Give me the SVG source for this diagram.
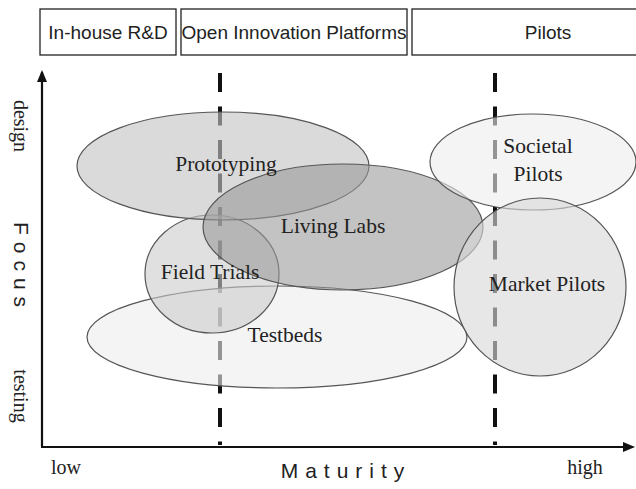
<svg xmlns="http://www.w3.org/2000/svg" width="636" height="489" viewBox="0 0 636 489">
<style>
.hdr{fill:#fff;stroke:#222;stroke-width:1.3}
.ht{font-family:"Liberation Sans",Arial,sans-serif;font-size:19px;fill:#222;text-anchor:middle}
.lbl{font-family:"Liberation Serif","Times New Roman",serif;font-size:21.5px;fill:#222;text-anchor:middle}
.ax{font-family:"Liberation Serif","Times New Roman",serif;font-size:20px;fill:#222;text-anchor:middle}
.axs{font-family:"Liberation Sans",Arial,sans-serif;font-size:21px;fill:#222;text-anchor:middle;letter-spacing:7px}
.dash{stroke:#111;stroke-width:4;stroke-dasharray:19 14.5;fill:none}
.el{stroke:#555;stroke-width:1.2}
</style>
<defs>
<marker id="ah" markerWidth="12" markerHeight="10" refX="10" refY="5" orient="auto" markerUnits="userSpaceOnUse">
<path d="M0,0 L12,5 L0,10 Z" fill="#111"/>
</marker>
</defs>
<rect width="636" height="489" fill="#fff"/>
<g id="header-rd"><rect class="hdr" x="40" y="9" width="136" height="46"/><text class="ht" x="108" y="39">In-house R&amp;D</text></g>
<g id="header-oip"><rect class="hdr" x="181" y="9" width="226" height="46"/><text class="ht" x="294" y="39">Open Innovation Platforms</text></g>
<g id="header-pilots"><rect class="hdr" x="412" y="9" width="230" height="46"/><text class="ht" x="548" y="39">Pilots</text></g>
<g id="connectors">
<line class="dash" x1="220" y1="73" x2="220" y2="445"/>
<line class="dash" x1="495" y1="73" x2="495" y2="445"/>
<line x1="42" y1="447" x2="42" y2="72" stroke="#111" stroke-width="2.2" marker-end="url(#ah)"/>
<line x1="41" y1="447" x2="633" y2="447" stroke="#111" stroke-width="2.2" marker-end="url(#ah)"/>
</g>
<g id="testbeds"><ellipse class="el" cx="277" cy="337" rx="190" ry="51" fill="#ececec" fill-opacity="0.6"/></g>
<g id="field-trials"><ellipse class="el" cx="212" cy="274" rx="67" ry="59" fill="#cccccc" fill-opacity="0.6"/></g>
<g id="prototyping"><ellipse class="el" cx="223" cy="166" rx="146" ry="54" fill="#c4c4c4" fill-opacity="0.62"/></g>
<g id="living-labs"><ellipse class="el" cx="343" cy="227" rx="140" ry="63" fill="#989898" fill-opacity="0.58"/></g>
<g id="societal-pilots"><ellipse class="el" cx="533" cy="162" rx="103" ry="48" fill="#ececec" fill-opacity="0.6"/></g>
<g id="market-pilots"><ellipse class="el" cx="540" cy="287" rx="86" ry="89" fill="#d8d8d8" fill-opacity="0.62"/></g>
<g id="labels">
<text class="lbl" x="226" y="171">Prototyping</text>
<text class="lbl" x="333" y="233">Living Labs</text>
<text class="lbl" x="210" y="279">Field Trials</text>
<text class="lbl" x="285" y="342">Testbeds</text>
<text class="lbl" x="538" y="153">Societal</text>
<text class="lbl" x="538" y="181">Pilots</text>
<text class="lbl" x="547" y="291">Market Pilots</text>
</g>
<g id="axis-labels">
<text class="ax" transform="translate(14,126) rotate(90)">design</text>
<text class="ax" transform="translate(14,396) rotate(90)">testing</text>
<text class="axs" transform="translate(14,268) rotate(90)">Focus</text>
<text class="ax" x="66" y="474">low</text>
<text class="axs" x="346" y="478">Maturity</text>
<text class="ax" x="585" y="474">high</text>
</g>
</svg>
